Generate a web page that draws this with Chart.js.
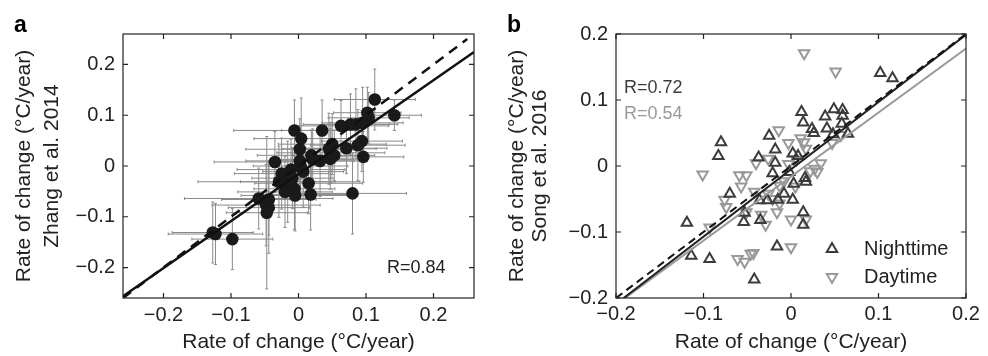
<!DOCTYPE html>
<html>
<head>
<meta charset="utf-8">
<script src="https://cdn.jsdelivr.net/npm/chart.js@4.4.1/dist/chart.umd.min.js"></script>
<style>
  html, body { margin: 0; padding: 0; background: #fff; }
  canvas { position: absolute; top: 0; }
</style>
</head>
<body>
<canvas id="chartA" width="494" height="356" style="left:0"></canvas>
<canvas id="chartB" width="494" height="356" style="left:494px"></canvas>
<script>
/* ── Panel a: satellite vs Zhang et al. 2014 ─────────── */
const aX    = [0.113, 0.142, 0.102, 0.104, 0.095, 0.085, 0.077, 0.063, -0.006, 0.035, 0.004, 0.094, 0.088, 0.050, 0.071, 0.002,
               0.045, 0.048, 0.053, 0.096, 0.047, 0.019, 0.021, 0.032, -0.035, 0.002, 0.003, 0.007, -0.011, -0.025, -0.009, -0.029,
               -0.016, 0.015, -0.020, -0.006, -0.005, 0.018, 0.080, -0.059, -0.044, -0.048, -0.044, -0.047, -0.123, -0.098, -0.127];
const aY    = [0.131, 0.100, 0.105, 0.095, 0.085, 0.082, 0.082, 0.079, 0.070, 0.070, 0.054, 0.049, 0.041, 0.043, 0.035, 0.033,
               0.034, 0.026, 0.021, 0.018, 0.014, 0.021, 0.013, 0.010, 0.008, 0.010, 0.000, -0.011, -0.007, -0.015, -0.024, -0.031,
               -0.031, -0.034, -0.051, -0.045, -0.058, -0.056, -0.054, -0.064, -0.066, -0.077, -0.082, -0.092, -0.134, -0.144, -0.131];
const aXErr = [0.06, 0.04, 0.05, 0.06, 0.06, 0.05, 0.07, 0.07, 0.09, 0.06, 0.07, 0.06, 0.07, 0.08, 0.06, 0.08,
               0.07, 0.08, 0.06, 0.06, 0.05, 0.08, 0.06, 0.07, 0.09, 0.08, 0.07, 0.06, 0.08, 0.07, 0.06, 0.12,
               0.07, 0.08, 0.07, 0.06, 0.08, 0.07, 0.08, 0.11, 0.07, 0.08, 0.06, 0.06, 0.07, 0.06, 0.06];
const aYErr = [0.06, 0.03, 0.05, 0.05, 0.07, 0.07, 0.06, 0.05, 0.06, 0.06, 0.08, 0.06, 0.07, 0.06, 0.05, 0.06,
               0.07, 0.06, 0.05, 0.05, 0.06, 0.05, 0.06, 0.07, 0.06, 0.07, 0.06, 0.07, 0.06, 0.07, 0.06, 0.07,
               0.08, 0.06, 0.07, 0.08, 0.07, 0.07, 0.08, 0.06, 0.07, 0.08, 0.09, 0.15, 0.06, 0.06, 0.06];
const aFitSlope = 0.925, aFitIntercept = -0.016;
const aRange = [-0.26, 0.26];
const aTicks = [-0.2, -0.1, 0, 0.1, 0.2];

/* ── Panel b: satellite vs Song et al. 2016 ──────────── */
const nightX = [0.102, 0.116, 0.012, 0.049, 0.059, 0.039, 0.059, 0.014, 0.058, 0.024, 0.041, 0.026, 0.065, 0.048, -0.025,
                -0.080, -0.083, -0.037, -0.018, -0.021, -0.018, -0.002, 0.002, 0.008, 0.016, 0.017, -0.070, -0.036, -0.027,
                -0.015, -0.008, 0.002, 0.003, -0.053, -0.054, -0.035, -0.119, 0.014, 0.014, -0.016, -0.114, -0.093, -0.042];
const nightY = [0.141, 0.133, 0.082, 0.086, 0.085, 0.075, 0.076, 0.066, 0.064, 0.056, 0.057, 0.050, 0.049, 0.048, 0.046,
                0.036, 0.015, 0.013, 0.005, -0.011, 0.025, -0.009, 0.019, 0.015, -0.018, -0.024, -0.042, -0.052, -0.052,
                -0.051, -0.042, -0.051, -0.027, -0.071, -0.085, -0.082, -0.086, -0.070, -0.089, -0.122, -0.136, -0.141, -0.172];
const dayX   = [0.015, 0.051, -0.014, 0.011, -0.003, 0.017, 0.015, -0.026, -0.040, -0.101, -0.059, -0.051, -0.057, 0.027,
                0.034, 0.030, 0.022, -0.003, -0.008, -0.013, 0.005, -0.042, -0.076, -0.074, -0.026, -0.021, -0.013, -0.016,
                -0.051, -0.034, -0.029, 0.000, 0.017, -0.093, 0.000, -0.061, -0.053, -0.046, -0.043, 0.047, 0.057, 0.006];
const dayY   = [0.171, 0.143, 0.054, 0.042, 0.035, 0.026, 0.036, 0.011, 0.004, -0.013, -0.014, -0.014, -0.031, -0.004,
                0.004, -0.009, -0.008, 0.003, -0.023, -0.030, -0.031, -0.039, -0.051, -0.062, -0.042, -0.050, -0.057, -0.070,
                -0.070, -0.074, -0.089, -0.081, -0.081, -0.093, -0.123, -0.141, -0.145, -0.133, -0.132, 0.035, 0.047, 0.010];
const nightFitSlope = 1.02, nightFitIntercept = -0.005;
const dayFitSlope = 0.97, dayFitIntercept = -0.016;
const bRange = [-0.2, 0.2];
const bTicks = [-0.2, -0.1, 0, 0.1, 0.2];

const FONT = '"Liberation Sans", Arial, Helvetica, sans-serif';
const INK = '#222';
const NIGHT = '#3c3c3c';
const DAY = '#999';
Chart.defaults.font.family = FONT;
Chart.defaults.font.size = 20;
Chart.defaults.color = INK;

function fmtTick(v) {
  if (Math.abs(v) < 1e-9) return '0';
  return (v < 0 ? '\u2212' : '') + Math.abs(v).toFixed(1);
}

function pts(xs, ys) { return xs.map((x, i) => ({ x, y: ys[i] })); }
function fitLine(range, slope, icpt) { return range.map(x => ({ x, y: slope * x + icpt })); }

/* ── Axis config ─────────────────────────────────────── */
function xScale(range, ticks, tickPad) {
  return {
    type: 'linear', min: range[0], max: range[1],
    afterBuildTicks: s => { s.ticks = ticks.map(v => ({ value: v })); },
    afterFit: s => { s.height = 58; },
    grid: { display: false, drawTicks: false },
    border: { display: false },
    ticks: { padding: tickPad, callback: fmtTick, maxRotation: 0, autoSkip: false, color: INK },
    title: { display: true, text: 'Rate of change (\u00b0C/year)', color: INK, font: { size: 21 }, padding: { top: 0, bottom: 1 } },
  };
}
function yScale(range, ticks, width, lines, lineHeight) {
  return {
    type: 'linear', min: range[0], max: range[1],
    afterBuildTicks: s => { s.ticks = ticks.map(v => ({ value: v })); },
    afterFit: s => { s.width = width; },
    grid: { display: false, drawTicks: false },
    border: { display: false },
    ticks: { padding: 8, callback: fmtTick, autoSkip: false, color: INK },
    title: { display: true, text: lines, color: INK, font: { size: 21, lineHeight }, padding: { top: 11, bottom: 0 } },
  };
}

/* ── Plot box with inward tick marks ─────────────────── */
const framePlugin = {
  id: 'frame',
  afterDatasetsDraw(chart) {
    const { ctx, chartArea: ca, scales: { x, y } } = chart;
    ctx.save();
    ctx.strokeStyle = INK;
    ctx.lineWidth = 1.2;
    ctx.strokeRect(ca.left, ca.top, ca.width, ca.height);
    ctx.beginPath();
    x.ticks.forEach(t => {
      const px = x.getPixelForValue(t.value);
      ctx.moveTo(px, ca.bottom); ctx.lineTo(px, ca.bottom - 5);
      ctx.moveTo(px, ca.top);    ctx.lineTo(px, ca.top + 5);
    });
    y.ticks.forEach(t => {
      const py = y.getPixelForValue(t.value);
      ctx.moveTo(ca.left, py);  ctx.lineTo(ca.left + 5, py);
      ctx.moveTo(ca.right, py); ctx.lineTo(ca.right - 5, py);
    });
    ctx.stroke();
    ctx.restore();
  },
};

/* ── Free text + legend marks ────────────────────────── */
const notesPlugin = {
  id: 'notes',
  afterDraw(chart, args, opts) {
    const { ctx } = chart;
    ctx.save();
    (opts.texts || []).forEach(t => {
      ctx.font = t.font;
      ctx.fillStyle = t.color;
      ctx.textAlign = 'left';
      ctx.textBaseline = t.baseline || 'middle';
      ctx.fillText(t.text, t.x, t.y);
    });
    (opts.marks || []).forEach(m => {
      ctx.strokeStyle = m.color;
      ctx.fillStyle = 'rgba(0,0,0,0)';
      ctx.lineWidth = 2;
      Chart.helpers.drawPoint(ctx, { pointStyle: 'triangle', rotation: m.rotation, radius: 6, borderWidth: 2 }, m.x, m.y);
    });
    ctx.restore();
  },
};

/* ── Error bars for panel a ──────────────────────────── */
const errorBarPlugin = {
  id: 'errorBars',
  beforeDatasetsDraw(chart) {
    const { ctx, chartArea: ca, scales: { x, y } } = chart;
    ctx.save();
    ctx.beginPath();
    ctx.rect(ca.left, ca.top, ca.width, ca.height);
    ctx.clip();
    ctx.strokeStyle = '#8a8a8a';
    ctx.lineWidth = 1;
    ctx.beginPath();
    aX.forEach((xv, i) => {
      const px = x.getPixelForValue(xv), py = y.getPixelForValue(aY[i]);
      const x0 = x.getPixelForValue(xv - aXErr[i]), x1 = x.getPixelForValue(xv + aXErr[i]);
      const y0 = y.getPixelForValue(aY[i] - aYErr[i]), y1 = y.getPixelForValue(aY[i] + aYErr[i]);
      ctx.moveTo(x0, py); ctx.lineTo(x1, py);
      ctx.moveTo(x0, py - 1.5); ctx.lineTo(x0, py + 1.5);
      ctx.moveTo(x1, py - 1.5); ctx.lineTo(x1, py + 1.5);
      ctx.moveTo(px, y0); ctx.lineTo(px, y1);
      ctx.moveTo(px - 1.5, y0); ctx.lineTo(px + 1.5, y0);
      ctx.moveTo(px - 1.5, y1); ctx.lineTo(px + 1.5, y1);
    });
    ctx.stroke();
    ctx.restore();
  },
};

const baseOptions = {
  responsive: false,
  animation: false,
  events: [],
};

/* ── Chart a ─────────────────────────────────────────── */
new Chart(document.getElementById('chartA'), {
  type: 'scatter',
  data: {
    datasets: [
      { data: fitLine(aRange, aFitSlope, aFitIntercept), showLine: true, pointRadius: 0,
        borderColor: '#111', borderWidth: 2.5 },
      { data: fitLine([aRange[0], 0.25], 1, 0), showLine: true, pointRadius: 0,
        borderColor: '#111', borderWidth: 2.5, borderDash: [10, 7] },
      { data: pts(aX, aY), pointRadius: 6.3, pointBorderWidth: 0,
        pointBackgroundColor: '#1a1a1a', pointBorderColor: '#1a1a1a' },
    ],
  },
  options: {
    ...baseOptions,
    layout: { padding: { left: 0, right: 20, top: 34, bottom: 0 } },
    scales: {
      x: xScale(aRange, aTicks, 5),
      y: yScale(aRange, aTicks, 123, ['Rate of change (\u00b0C/year)', 'Zhang et al. 2014'], 1.3),
    },
    plugins: {
      legend: { display: false },
      tooltip: { enabled: false },
      notes: {
        texts: [
          { text: 'a', x: 14, y: 32, color: '#000', font: 'bold 23px ' + FONT, baseline: 'alphabetic' },
          { text: 'R=0.84', x: 387, y: 268, color: INK, font: '18px ' + FONT },
        ],
      },
    },
  },
  plugins: [errorBarPlugin, framePlugin, notesPlugin],
});

/* ── Chart b ─────────────────────────────────────────── */
new Chart(document.getElementById('chartB'), {
  type: 'scatter',
  data: {
    datasets: [
      { data: fitLine(bRange, 1, 0), showLine: true, pointRadius: 0,
        borderColor: '#111', borderWidth: 2, borderDash: [8, 5] },
      { data: fitLine(bRange, nightFitSlope, nightFitIntercept), showLine: true, pointRadius: 0,
        borderColor: '#222', borderWidth: 2 },
      { data: fitLine(bRange, dayFitSlope, dayFitIntercept), showLine: true, pointRadius: 0,
        borderColor: DAY, borderWidth: 2 },
      { data: pts(nightX, nightY), pointStyle: 'triangle', pointRadius: 6, pointBorderWidth: 2,
        pointBorderColor: NIGHT, pointBackgroundColor: 'rgba(0,0,0,0)' },
      { data: pts(dayX, dayY), pointStyle: 'triangle', rotation: 180, pointRadius: 6, pointBorderWidth: 2,
        pointBorderColor: DAY, pointBackgroundColor: 'rgba(0,0,0,0)' },
    ],
  },
  options: {
    ...baseOptions,
    layout: { padding: { left: 0, right: 22, top: 34, bottom: 0 } },
    scales: {
      x: xScale(bRange, bTicks, 4),
      y: yScale(bRange, bTicks, 122, ['Rate of change (\u00b0C/year)', 'Song et al. 2016'], 1.12),
    },
    plugins: {
      legend: { display: false },
      tooltip: { enabled: false },
      notes: {
        texts: [
          { text: 'b', x: 13, y: 32, color: '#000', font: 'bold 23px ' + FONT, baseline: 'alphabetic' },
          { text: 'R=0.72', x: 130, y: 88, color: NIGHT, font: '18px ' + FONT },
          { text: 'R=0.54', x: 130, y: 114, color: DAY, font: '18px ' + FONT },
          { text: 'Nighttime', x: 370, y: 249, color: INK, font: '20px ' + FONT },
          { text: 'Daytime', x: 370, y: 277, color: INK, font: '20px ' + FONT },
        ],
        marks: [
          { x: 338, y: 249, color: NIGHT, rotation: 0 },
          { x: 338, y: 277, color: DAY, rotation: 180 },
        ],
      },
    },
  },
  plugins: [framePlugin, notesPlugin],
});
</script>
</body>
</html>
